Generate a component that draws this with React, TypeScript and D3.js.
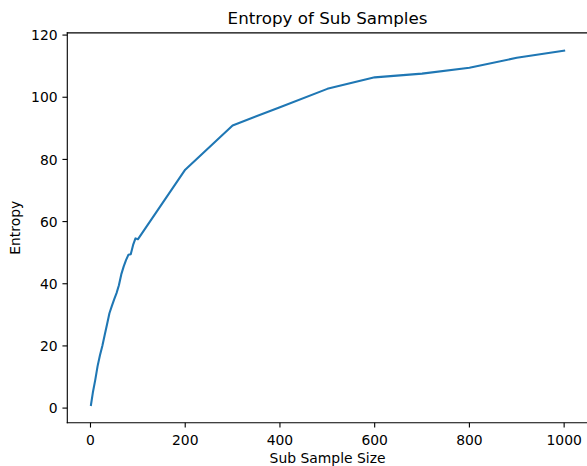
import React from "react";
import * as d3 from "d3";

const sampleSizes = [1, 5, 10, 15, 20, 25, 30, 35, 40, 45, 50, 55, 60, 65, 70, 75, 80, 85, 90, 95, 100, 200, 300, 400, 500, 600, 700, 800, 900, 1000];
const entropyValues = [1.0, 5.0, 9.0, 13.5, 17.0, 20.0, 23.5, 27.0, 30.5, 32.8, 35.0, 37.0, 39.5, 43.0, 45.5, 47.6, 49.3, 49.5, 52.5, 54.6, 54.3, 76.7, 90.9, 96.8, 102.7, 106.4, 107.6, 109.5, 112.7, 115.0];
const xTicks = [0, 200, 400, 600, 800, 1000];
const yTicks = [0, 20, 40, 60, 80, 100, 120];

const W = 587;
const H = 466;
const margin = { left: 67.3, right: 587.8, top: 32.9, bottom: 422.7 };
const FONT = "'DejaVu Sans', sans-serif";

export default function App() {
  const xMin = d3.min(sampleSizes)!;
  const xMax = d3.max(sampleSizes)!;
  const yMin = d3.min(entropyValues)!;
  const yMax = d3.max(entropyValues)!;
  const xPad = (xMax - xMin) * 0.05;
  const yPad = (yMax - yMin) * 0.05;
  const x = d3.scaleLinear().domain([xMin - xPad, xMax + xPad]).range([margin.left, margin.right]);
  const y = d3.scaleLinear().domain([yMin - yPad, yMax + yPad]).range([margin.bottom, margin.top]);
  const data = sampleSizes.map((s, i) => [s, entropyValues[i]] as [number, number]);
  const line = d3.line<[number, number]>().x((d) => x(d[0])).y((d) => y(d[1]));
  const tickLen = 4.86;
  const sw = 1.11;

  return (
    <div style={{ position: "fixed", left: 0, top: 0 }}>
      <svg width={W} height={H} style={{ display: "block", background: "#fff" }}>
        <rect x={0} y={0} width={W} height={H} fill="#fff" />
        <path d={line(data) || ""} fill="none" stroke="#1f77b4" strokeWidth={2.08} strokeLinejoin="round" strokeLinecap="square" />
        {/* spines */}
        <line x1={margin.left} x2={margin.left} y1={margin.top} y2={margin.bottom} stroke="#000" strokeWidth={sw} strokeLinecap="square" />
        <line x1={margin.right} x2={margin.right} y1={margin.top} y2={margin.bottom} stroke="#000" strokeWidth={sw} strokeLinecap="square" />
        <line x1={margin.left} x2={margin.right} y1={margin.top} y2={margin.top} stroke="#000" strokeWidth={sw} strokeLinecap="square" />
        <line x1={margin.left} x2={margin.right} y1={margin.bottom} y2={margin.bottom} stroke="#000" strokeWidth={sw} strokeLinecap="square" />
        {xTicks.map((t) => (
          <g key={"x" + t}>
            <line x1={x(t)} x2={x(t)} y1={margin.bottom} y2={margin.bottom + tickLen} stroke="#000" strokeWidth={sw} />
            <text x={x(t)} y={445} textAnchor="middle" fontFamily={FONT} fontSize={13.9} fill="#000">{t}</text>
          </g>
        ))}
        {yTicks.map((t) => (
          <g key={"y" + t}>
            <line x1={margin.left - tickLen} x2={margin.left} y1={y(t)} y2={y(t)} stroke="#000" strokeWidth={sw} />
            <text x={57.6} y={y(t) + 5.1} textAnchor="end" fontFamily={FONT} fontSize={13.9} fill="#000">{t}</text>
          </g>
        ))}
        <text x={(margin.left + margin.right) / 2} y={24.2} textAnchor="middle" fontFamily={FONT} fontSize={16.7} fill="#000">Entropy of Sub Samples</text>
        <text x={(margin.left + margin.right) / 2} y={463.3} textAnchor="middle" fontFamily={FONT} fontSize={13.9} fill="#000">Sub Sample Size</text>
        <text transform={`translate(20.2, ${(margin.top + margin.bottom) / 2}) rotate(-90)`} textAnchor="middle" fontFamily={FONT} fontSize={13.9} fill="#000">Entropy</text>
      </svg>
    </div>
  );
}
